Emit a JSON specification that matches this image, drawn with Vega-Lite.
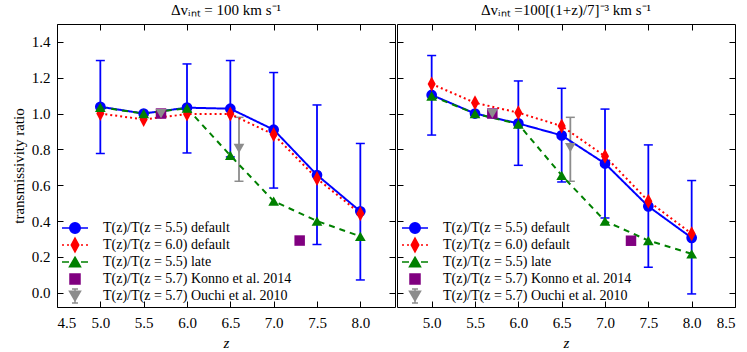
{
  "$schema": "https://vega.github.io/schema/vega-lite/v6.json",
  "padding": {"left": 10, "top": 2, "right": 0, "bottom": 0},
  "spacing": 0,
  "config": {
    "font": "Liberation Serif",
    "view": {"stroke": "#000000", "strokeWidth": 1},
    "axis": {"grid": false, "domain": false, "tickSize": -6, "tickColor": "#000000", "tickWidth": 1,
      "labelFont": "Liberation Serif", "labelFontSize": 15, "labelColor": "#000000", "labelPadding": 13,
      "titleFont": "Liberation Serif", "titleFontSize": 15, "titleFontWeight": "normal", "titleColor": "#000000"},
    "legend": {"labelLimit": 400},
    "title": {"font": "Liberation Serif", "fontSize": 15, "fontWeight": "normal", "color": "#000000", "offset": 6},
    "concat": {"spacing": 0}
  },
  "datasets": {
    "pts": [
      {"panel": "L", "s": "a", "z": 5.0, "t": 1.038, "lo": 0.777, "hi": 1.296},
      {"panel": "L", "s": "a", "z": 5.5, "t": 1.0},
      {"panel": "L", "s": "a", "z": 6.0, "t": 1.033, "lo": 0.78, "hi": 1.277},
      {"panel": "L", "s": "a", "z": 6.5, "t": 1.027, "lo": 0.758, "hi": 1.296},
      {"panel": "L", "s": "a", "z": 7.0, "t": 0.91, "lo": 0.584, "hi": 1.229},
      {"panel": "L", "s": "a", "z": 7.5, "t": 0.657, "lo": 0.269, "hi": 1.048},
      {"panel": "L", "s": "a", "z": 8.0, "t": 0.454, "lo": 0.071, "hi": 0.833},
      {"panel": "L", "s": "b", "z": 5.0, "t": 1.0},
      {"panel": "L", "s": "b", "z": 5.5, "t": 0.967},
      {"panel": "L", "s": "b", "z": 6.0, "t": 0.997},
      {"panel": "L", "s": "b", "z": 6.5, "t": 0.997},
      {"panel": "L", "s": "b", "z": 7.0, "t": 0.883},
      {"panel": "L", "s": "b", "z": 7.5, "t": 0.637},
      {"panel": "L", "s": "b", "z": 8.0, "t": 0.441},
      {"panel": "L", "s": "c", "z": 5.0, "t": 1.035},
      {"panel": "L", "s": "c", "z": 5.5, "t": 1.0},
      {"panel": "L", "s": "c", "z": 6.0, "t": 1.03},
      {"panel": "L", "s": "c", "z": 6.5, "t": 0.766},
      {"panel": "L", "s": "c", "z": 7.0, "t": 0.511},
      {"panel": "L", "s": "c", "z": 7.5, "t": 0.4},
      {"panel": "L", "s": "c", "z": 8.0, "t": 0.314},
      {"panel": "L", "s": "d", "z": 5.7, "t": 1.0},
      {"panel": "L", "s": "d", "z": 7.3, "t": 0.291},
      {"panel": "L", "s": "e", "z": 5.7, "t": 1.0},
      {"panel": "L", "s": "e", "z": 6.6, "t": 0.805, "lo": 0.622, "hi": 0.979},
      {"panel": "R", "s": "a", "z": 5.0, "t": 1.104, "lo": 0.88, "hi": 1.324},
      {"panel": "R", "s": "a", "z": 5.5, "t": 1.0},
      {"panel": "R", "s": "a", "z": 6.0, "t": 0.945, "lo": 0.711, "hi": 1.182},
      {"panel": "R", "s": "a", "z": 6.5, "t": 0.878, "lo": 0.618, "hi": 1.141},
      {"panel": "R", "s": "a", "z": 7.0, "t": 0.721, "lo": 0.417, "hi": 1.025},
      {"panel": "R", "s": "a", "z": 7.5, "t": 0.482, "lo": 0.142, "hi": 0.825},
      {"panel": "R", "s": "a", "z": 8.0, "t": 0.306, "lo": -0.007, "hi": 0.626},
      {"panel": "R", "s": "b", "z": 5.0, "t": 1.165},
      {"panel": "R", "s": "b", "z": 5.5, "t": 1.06},
      {"panel": "R", "s": "b", "z": 6.0, "t": 1.005},
      {"panel": "R", "s": "b", "z": 6.5, "t": 0.93},
      {"panel": "R", "s": "b", "z": 7.0, "t": 0.762},
      {"panel": "R", "s": "b", "z": 7.5, "t": 0.511},
      {"panel": "R", "s": "b", "z": 8.0, "t": 0.329},
      {"panel": "R", "s": "c", "z": 5.0, "t": 1.098},
      {"panel": "R", "s": "c", "z": 5.5, "t": 1.0},
      {"panel": "R", "s": "c", "z": 6.0, "t": 0.941},
      {"panel": "R", "s": "c", "z": 6.5, "t": 0.655},
      {"panel": "R", "s": "c", "z": 7.0, "t": 0.4},
      {"panel": "R", "s": "c", "z": 7.5, "t": 0.291},
      {"panel": "R", "s": "c", "z": 8.0, "t": 0.217},
      {"panel": "R", "s": "d", "z": 5.7, "t": 1.0},
      {"panel": "R", "s": "d", "z": 7.3, "t": 0.29},
      {"panel": "R", "s": "e", "z": 5.7, "t": 1.0},
      {"panel": "R", "s": "e", "z": 6.6, "t": 0.81, "lo": 0.622, "hi": 0.979}
    ]
  },
  "resolve": {
    "scale": {"x": "independent", "y": "independent", "color": "independent", "fill": "independent", "stroke": "independent", "shape": "independent", "strokeDash": "independent"},
    "legend": {"color": "independent", "fill": "independent", "stroke": "independent", "shape": "independent", "strokeDash": "independent"}
  },
  "hconcat": [
    {
      "width": 338, "height": 283,
      "title": {"text": "Δvᵢₙₜ = 100 km s⁻¹", "anchor": "middle"},
      "data": {"name": "pts"},
      "transform": [{"filter": "datum.panel == 'L'"}],
      "resolve": {"axis": {"x": "independent", "y": "independent"}},
      "layer": [
        {
          "mark": {"type": "rule", "strokeWidth": 1.8, "opacity": 1},
          "encoding": {
            "x": {"field": "z", "type": "quantitative", "scale": {"domain": [4.5, 8.4], "nice": false, "zero": false},
              "axis": {"orient": "bottom", "values": [4.5, 5, 5.5, 6, 6.5, 7, 7.5, 8], "format": ".1f", "title": "z", "titleFontStyle": "italic", "labelPadding": 14, "titlePadding": 5}},
            "y": {"field": "lo", "type": "quantitative", "scale": {"domain": [-0.08, 1.5], "nice": false, "zero": false},
              "axis": {"orient": "left", "values": [0, 0.2, 0.4, 0.6, 0.8, 1.0, 1.2, 1.4], "format": ".1f", "title": "transmissivity ratio", "titlePadding": 5}},
            "y2": {"field": "hi"},
            "color": {"field": "s", "type": "nominal", "scale": {"domain": ["e", "d", "c", "b", "a"], "range": ["#8c8c8c", "#800080", "#008000", "#ff0000", "#0000ff"]}, "legend": null}
          }
        },
        {
          "mark": {"type": "point", "shape": "stroke", "size": 81, "strokeWidth": 1.5, "opacity": 1, "filled": false},
          "encoding": {
            "x": {"field": "z", "type": "quantitative", "axis": null},
            "y": {"field": "lo", "type": "quantitative", "axis": null},
            "color": {"field": "s", "type": "nominal", "legend": null}
          }
        },
        {
          "mark": {"type": "point", "shape": "stroke", "size": 81, "strokeWidth": 1.5, "opacity": 1, "filled": false},
          "encoding": {
            "x": {"field": "z", "type": "quantitative", "axis": null},
            "y": {"field": "hi", "type": "quantitative", "axis": null},
            "color": {"field": "s", "type": "nominal", "legend": null}
          }
        },
        {
          "transform": [{"filter": "indexof(['a','b','c'], datum.s) >= 0"}],
          "mark": {"type": "line", "strokeWidth": 2},
          "encoding": {
            "x": {"field": "z", "type": "quantitative", "axis": {"orient": "top", "labels": false, "title": null, "values": [4.5, 5, 5.5, 6, 6.5, 7, 7.5, 8]}},
            "y": {"field": "t", "type": "quantitative", "axis": {"orient": "right", "labels": false, "title": null, "values": [0, 0.2, 0.4, 0.6, 0.8, 1.0, 1.2, 1.4]}},
            "color": {"field": "s", "type": "nominal", "legend": null},
            "strokeDash": {"field": "s", "type": "nominal", "scale": {"domain": ["a", "b", "c"], "range": [[1, 0], [2, 3], [6, 5]]}, "legend": null}
          }
        },
        {"transform": [{"filter": "datum.s == 'a'"}], "mark": {"type": "point", "shape": "circle", "filled": true, "size": 115, "opacity": 1, "strokeWidth": 0},
          "encoding": {"x": {"field": "z", "type": "quantitative", "axis": null}, "y": {"field": "t", "type": "quantitative", "axis": null}, "color": {"field": "s", "type": "nominal", "legend": null}}},
        {"transform": [{"filter": "datum.s == 'b'"}], "mark": {"type": "point", "shape": "M0,-1.4L0.75,0L0,1.4L-0.75,0Z", "filled": true, "size": 115, "opacity": 1, "strokeWidth": 0},
          "encoding": {"x": {"field": "z", "type": "quantitative", "axis": null}, "y": {"field": "t", "type": "quantitative", "axis": null}, "color": {"field": "s", "type": "nominal", "legend": null}}},
        {"transform": [{"filter": "datum.s == 'c'"}], "mark": {"type": "point", "shape": "triangle-up", "filled": true, "size": 115, "opacity": 1, "strokeWidth": 0},
          "encoding": {"x": {"field": "z", "type": "quantitative", "axis": null}, "y": {"field": "t", "type": "quantitative", "axis": null}, "color": {"field": "s", "type": "nominal", "legend": null}}},
        {"transform": [{"filter": "datum.s == 'd'"}], "mark": {"type": "point", "shape": "square", "filled": true, "size": 110, "opacity": 1, "strokeWidth": 0},
          "encoding": {"x": {"field": "z", "type": "quantitative", "axis": null}, "y": {"field": "t", "type": "quantitative", "axis": null}, "color": {"field": "s", "type": "nominal", "legend": null}}},
        {"transform": [{"filter": "datum.s == 'e'"}], "mark": {"type": "point", "shape": "triangle-down", "filled": true, "size": 115, "opacity": 1, "strokeWidth": 0},
          "encoding": {"x": {"field": "z", "type": "quantitative", "axis": null}, "y": {"field": "t", "type": "quantitative", "axis": null}, "color": {"field": "s", "type": "nominal", "legend": null}}},
        {
          "transform": [{"filter": "false"}],
          "mark": {"type": "point", "filled": true, "size": 100, "opacity": 1, "strokeWidth": 1.5},
          "encoding": {
            "x": {"field": "z", "type": "quantitative", "axis": null},
            "y": {"field": "t", "type": "quantitative", "axis": null},
            "fill": {"field": "s", "type": "nominal", "scale": {"domain": ["a", "b", "c", "d", "e"], "range": ["#0000ff", "#ff0000", "#008000", "#800080", "#8c8c8c"]},
              "legend": {"orient": "none", "legendX": 4, "legendY": 197, "title": null, "padding": 0,
                "labelExpr": "datum.label=='a'?'T(z)/T(z = 5.5) default':datum.label=='b'?'T(z)/T(z = 6.0) default':datum.label=='c'?'T(z)/T(z = 5.5) late':datum.label=='d'?'T(z)/T(z = 5.7) Konno et al. 2014':'T(z)/T(z = 5.7) Ouchi et al. 2010'",
                "labelFont": "Liberation Serif", "labelFontSize": 14, "labelColor": "#000000", "labelOffset": 21, "labelLimit": 400, "rowPadding": -3.9,
                "symbolOffset": 7, "symbolSize": 100, "symbolStrokeWidth": 1.5, "symbolOpacity": 1}},
            "stroke": {"field": "s", "type": "nominal", "scale": {"domain": ["a", "b", "c", "d", "e"], "range": ["#0000ff", "#ff0000", "#008000", "#800080", "#8c8c8c"]}},
            "shape": {"field": "s", "type": "nominal", "scale": {"domain": ["a", "b", "c", "d", "e"], "range": [
              "M-2.6,-1.4M2.6,1.4M-2.6,0H2.6M1.05,0A1.05,1.05,0,1,1,-1.05,0A1.05,1.05,0,1,1,1.05,0Z",
              "M-2.6,-1.4M2.6,1.4M-2.6,0H-2.2M-1.6,0H-1.2M1.2,0H1.6M2.2,0H2.6M0,-1.4L0.75,0L0,1.4L-0.75,0Z",
              "M-2.6,-1.4M2.6,1.4M-2.6,0H-1.2M1.2,0H2.6M0,-0.95L1.1,0.95L-1.1,0.95Z",
              "M-2.6,-1.4M2.6,1.4M-1,-1H1V1H-1Z",
              "M-2.6,-1.4M2.6,1.4M0,-1.4V1.4M-0.6,-1.4H0.6M-0.6,1.4H0.6M-1.1,-0.95H1.1L0,0.95Z"]}}
          }
        }
      ]
    },
    {
      "width": 338, "height": 283,
      "title": {"text": "Δvᵢₙₜ =100[(1+z)/7]⁻³ km s⁻¹", "anchor": "middle"},
      "data": {"name": "pts"},
      "transform": [{"filter": "datum.panel == 'R'"}],
      "resolve": {"axis": {"x": "independent", "y": "independent"}},
      "layer": [
        {
          "mark": {"type": "rule", "strokeWidth": 1.8, "opacity": 1},
          "encoding": {
            "x": {"field": "z", "type": "quantitative", "scale": {"domain": [4.6, 8.5], "nice": false, "zero": false},
              "axis": {"orient": "bottom", "values": [5, 5.5, 6, 6.5, 7, 7.5, 8, 8.5], "format": ".1f", "title": "z", "titleFontStyle": "italic", "labelPadding": 14, "titlePadding": 5}},
            "y": {"field": "lo", "type": "quantitative", "scale": {"domain": [-0.08, 1.5], "nice": false, "zero": false},
              "axis": {"orient": "left", "values": [0, 0.2, 0.4, 0.6, 0.8, 1.0, 1.2, 1.4], "labels": false, "title": null}},
            "y2": {"field": "hi"},
            "color": {"field": "s", "type": "nominal", "scale": {"domain": ["e", "d", "c", "b", "a"], "range": ["#8c8c8c", "#800080", "#008000", "#ff0000", "#0000ff"]}, "legend": null}
          }
        },
        {
          "mark": {"type": "point", "shape": "stroke", "size": 81, "strokeWidth": 1.5, "opacity": 1, "filled": false},
          "encoding": {
            "x": {"field": "z", "type": "quantitative", "axis": null},
            "y": {"field": "lo", "type": "quantitative", "axis": null},
            "color": {"field": "s", "type": "nominal", "legend": null}
          }
        },
        {
          "mark": {"type": "point", "shape": "stroke", "size": 81, "strokeWidth": 1.5, "opacity": 1, "filled": false},
          "encoding": {
            "x": {"field": "z", "type": "quantitative", "axis": null},
            "y": {"field": "hi", "type": "quantitative", "axis": null},
            "color": {"field": "s", "type": "nominal", "legend": null}
          }
        },
        {
          "transform": [{"filter": "indexof(['a','b','c'], datum.s) >= 0"}],
          "mark": {"type": "line", "strokeWidth": 2},
          "encoding": {
            "x": {"field": "z", "type": "quantitative", "axis": {"orient": "top", "labels": false, "title": null, "values": [5, 5.5, 6, 6.5, 7, 7.5, 8]}},
            "y": {"field": "t", "type": "quantitative", "axis": {"orient": "right", "labels": false, "title": null, "values": [0, 0.2, 0.4, 0.6, 0.8, 1.0, 1.2, 1.4]}},
            "color": {"field": "s", "type": "nominal", "legend": null},
            "strokeDash": {"field": "s", "type": "nominal", "scale": {"domain": ["a", "b", "c"], "range": [[1, 0], [2, 3], [6, 5]]}, "legend": null}
          }
        },
        {"transform": [{"filter": "datum.s == 'a'"}], "mark": {"type": "point", "shape": "circle", "filled": true, "size": 115, "opacity": 1, "strokeWidth": 0},
          "encoding": {"x": {"field": "z", "type": "quantitative", "axis": null}, "y": {"field": "t", "type": "quantitative", "axis": null}, "color": {"field": "s", "type": "nominal", "legend": null}}},
        {"transform": [{"filter": "datum.s == 'b'"}], "mark": {"type": "point", "shape": "M0,-1.4L0.75,0L0,1.4L-0.75,0Z", "filled": true, "size": 115, "opacity": 1, "strokeWidth": 0},
          "encoding": {"x": {"field": "z", "type": "quantitative", "axis": null}, "y": {"field": "t", "type": "quantitative", "axis": null}, "color": {"field": "s", "type": "nominal", "legend": null}}},
        {"transform": [{"filter": "datum.s == 'c'"}], "mark": {"type": "point", "shape": "triangle-up", "filled": true, "size": 115, "opacity": 1, "strokeWidth": 0},
          "encoding": {"x": {"field": "z", "type": "quantitative", "axis": null}, "y": {"field": "t", "type": "quantitative", "axis": null}, "color": {"field": "s", "type": "nominal", "legend": null}}},
        {"transform": [{"filter": "datum.s == 'd'"}], "mark": {"type": "point", "shape": "square", "filled": true, "size": 110, "opacity": 1, "strokeWidth": 0},
          "encoding": {"x": {"field": "z", "type": "quantitative", "axis": null}, "y": {"field": "t", "type": "quantitative", "axis": null}, "color": {"field": "s", "type": "nominal", "legend": null}}},
        {"transform": [{"filter": "datum.s == 'e'"}], "mark": {"type": "point", "shape": "triangle-down", "filled": true, "size": 115, "opacity": 1, "strokeWidth": 0},
          "encoding": {"x": {"field": "z", "type": "quantitative", "axis": null}, "y": {"field": "t", "type": "quantitative", "axis": null}, "color": {"field": "s", "type": "nominal", "legend": null}}},
        {
          "transform": [{"filter": "false"}],
          "mark": {"type": "point", "filled": true, "size": 100, "opacity": 1, "strokeWidth": 1.5},
          "encoding": {
            "x": {"field": "z", "type": "quantitative", "axis": null},
            "y": {"field": "t", "type": "quantitative", "axis": null},
            "fill": {"field": "s", "type": "nominal", "scale": {"domain": ["a", "b", "c", "d", "e"], "range": ["#0000ff", "#ff0000", "#008000", "#800080", "#8c8c8c"]},
              "legend": {"orient": "none", "legendX": 4, "legendY": 197, "title": null, "padding": 0,
                "labelExpr": "datum.label=='a'?'T(z)/T(z = 5.5) default':datum.label=='b'?'T(z)/T(z = 6.0) default':datum.label=='c'?'T(z)/T(z = 5.5) late':datum.label=='d'?'T(z)/T(z = 5.7) Konno et al. 2014':'T(z)/T(z = 5.7) Ouchi et al. 2010'",
                "labelFont": "Liberation Serif", "labelFontSize": 14, "labelColor": "#000000", "labelOffset": 21, "labelLimit": 400, "rowPadding": -3.9,
                "symbolOffset": 7, "symbolSize": 100, "symbolStrokeWidth": 1.5, "symbolOpacity": 1}},
            "stroke": {"field": "s", "type": "nominal", "scale": {"domain": ["a", "b", "c", "d", "e"], "range": ["#0000ff", "#ff0000", "#008000", "#800080", "#8c8c8c"]}},
            "shape": {"field": "s", "type": "nominal", "scale": {"domain": ["a", "b", "c", "d", "e"], "range": [
              "M-2.6,-1.4M2.6,1.4M-2.6,0H2.6M1.05,0A1.05,1.05,0,1,1,-1.05,0A1.05,1.05,0,1,1,1.05,0Z",
              "M-2.6,-1.4M2.6,1.4M-2.6,0H-2.2M-1.6,0H-1.2M1.2,0H1.6M2.2,0H2.6M0,-1.4L0.75,0L0,1.4L-0.75,0Z",
              "M-2.6,-1.4M2.6,1.4M-2.6,0H-1.2M1.2,0H2.6M0,-0.95L1.1,0.95L-1.1,0.95Z",
              "M-2.6,-1.4M2.6,1.4M-1,-1H1V1H-1Z",
              "M-2.6,-1.4M2.6,1.4M0,-1.4V1.4M-0.6,-1.4H0.6M-0.6,1.4H0.6M-1.1,-0.95H1.1L0,0.95Z"]}}
          }
        }
      ]
    }
  ]
}
